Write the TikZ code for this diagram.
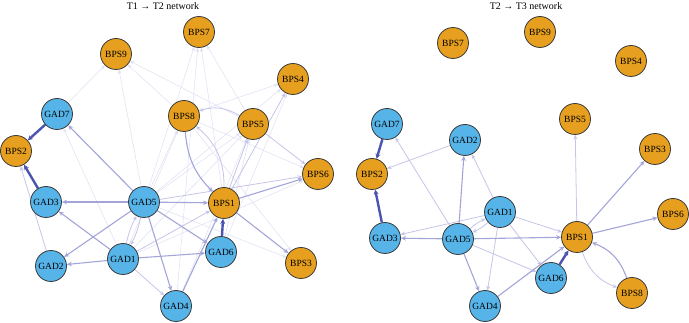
\documentclass[tikz,border=0pt]{standalone}
\usepackage{fontspec}
\setmainfont{Liberation Serif}
\usetikzlibrary{arrows.meta,backgrounds}
\definecolor{bpsfill}{HTML}{E69F1E}
\definecolor{gadfill}{HTML}{56B4E9}
\definecolor{nodeline}{HTML}{3A3A3A}
\definecolor{eD}{HTML}{4B55B0}
\definecolor{eC}{HTML}{A3A5D8}
\definecolor{eB}{HTML}{C4C5E8}
\definecolor{eA}{HTML}{DEDEF2}
\tikzset{
  nd/.style={circle,draw=nodeline,line width=0.8pt,minimum size=31pt,inner sep=0pt,font=\fontsize{9.5}{10}\selectfont},
  bps/.style={nd,fill=bpsfill},
  gad/.style={nd,fill=gadfill},
  ttl/.style={font=\fontsize{10}{11}\selectfont},
  e0/.style={draw=eA,line width=0.5pt,-{Stealth[length=4pt,width=3.5pt]}},
  e1/.style={draw=eB,line width=0.8pt,-{Stealth[length=4.5pt,width=4pt]}},
  e2/.style={draw=eC,line width=1.1pt,-{Stealth[length=5pt,width=4.5pt]}},
  e3/.style={draw=eD,line width=2.4pt,-{Stealth[length=5pt,width=5pt]}}
}
\begin{document}
\begin{tikzpicture}[x=1pt,y=-1pt]
\useasboundingbox (0,0) rectangle (689,323);
\node[ttl] (t1) at (163,6) {T1 → T2 network};
\node[ttl] (t2) at (526,6) {T2 → T3 network};
% left network
\node[bps] (lBPS7) at (199,32) {BPS7};
\node[bps] (lBPS9) at (116,54) {BPS9};
\node[bps] (lBPS4) at (293,79) {BPS4};
\node[gad] (lGAD7) at (57,114) {GAD7};
\node[bps] (lBPS8) at (184,116) {BPS8};
\node[bps] (lBPS5) at (253,124) {BPS5};
\node[bps] (lBPS2) at (16,151) {BPS2};
\node[bps] (lBPS6) at (318,174) {BPS6};
\node[gad] (lGAD3) at (46,202) {GAD3};
\node[gad] (lGAD5) at (144,202) {GAD5};
\node[bps] (lBPS1) at (224,203) {BPS1};
\node[gad] (lGAD6) at (221,252) {GAD6};
\node[gad] (lGAD1) at (123,259) {GAD1};
\node[gad] (lGAD2) at (51,266) {GAD2};
\node[bps] (lBPS3) at (301,263) {BPS3};
\node[gad] (lGAD4) at (176,306) {GAD4};
% right network
\node[bps] (rBPS7) at (453,43) {BPS7};
\node[bps] (rBPS9) at (540,32) {BPS9};
\node[bps] (rBPS4) at (631,61) {BPS4};
\node[bps] (rBPS5) at (575,119) {BPS5};
\node[gad] (rGAD7) at (387,124) {GAD7};
\node[gad] (rGAD2) at (465,140) {GAD2};
\node[bps] (rBPS3) at (655,149) {BPS3};
\node[bps] (rBPS2) at (372,174) {BPS2};
\node[gad] (rGAD1) at (500,212) {GAD1};
\node[bps] (rBPS6) at (673,214) {BPS6};
\node[gad] (rGAD3) at (385,238) {GAD3};
\node[gad] (rGAD5) at (458,239) {GAD5};
\node[bps] (rBPS1) at (577,237) {BPS1};
\node[gad] (rGAD6) at (551,278) {GAD6};
\node[bps] (rBPS8) at (632,293) {BPS8};
\node[gad] (rGAD4) at (485,306) {GAD4};
\begin{scope}[on background layer]
% left: very light
\foreach \a/\b in {lGAD1/lGAD7,lBPS5/lBPS9,lBPS5/lBPS7,lBPS8/lBPS4,lBPS1/lBPS7,lGAD5/lBPS9,lGAD5/lBPS8,lGAD5/lBPS5,lGAD5/lBPS4,lGAD5/lBPS3,lGAD1/lBPS8,lGAD1/lBPS5,lGAD5/lBPS7,lBPS8/lBPS9,lBPS8/lBPS6,lGAD4/lBPS5,lGAD6/lBPS5,lGAD6/lBPS4,lBPS8/lBPS3,lGAD1/lBPS6,lGAD7/lBPS9,lGAD4/lBPS7}
  \draw[e0] (\a) -- (\b);
% left: light
\foreach \a/\b in {lGAD1/lGAD4,lGAD2/lBPS2,lGAD1/lBPS1,lBPS5/lBPS6,lBPS1/lBPS5,lBPS1/lBPS4,lGAD5/lBPS6}
  \draw[e1] (\a) -- (\b);
\draw[e1] (lGAD1) to[bend left=8] (lGAD5);
\draw[e1] (lGAD5) to[bend left=8] (lGAD1);
\draw[e1] (lBPS1) to[bend right=25] (lBPS8);
\draw[e1] (lBPS5) to[bend right=25] (lBPS8);
% left: medium
\foreach \a/\b in {lGAD5/lGAD3,lGAD5/lBPS1,lGAD5/lGAD7,lGAD5/lGAD2,lGAD5/lGAD4,lGAD5/lGAD6,lGAD1/lGAD3,lGAD1/lGAD6,lGAD4/lBPS1,lBPS1/lBPS3,lBPS1/lBPS6,lGAD1/lGAD2}
  \draw[e2] (\a) -- (\b);
\draw[e2] (lBPS8) to[bend right=20] (lBPS1);
% left: strong
\draw[e3] (lGAD7) -- (lBPS2);
\draw[e3] (lGAD3) -- (lBPS2);
\draw[e3] (lGAD6) -- (lBPS1);
% right: light
\foreach \a/\b in {rGAD2/rBPS2,rGAD5/rGAD7,rGAD1/rGAD2,rGAD1/rGAD3,rGAD1/rGAD6,rGAD1/rGAD4,rGAD5/rGAD6,rBPS1/rBPS5,rGAD1/rBPS1}
  \draw[e1] (\a) -- (\b);
\draw[e1] (rGAD1) to[bend left=8] (rGAD5);
\draw[e1] (rGAD5) to[bend left=8] (rGAD1);
\draw[e1] (rBPS1) to[bend right=25] (rBPS8);
% right: medium
\foreach \a/\b in {rGAD5/rGAD3,rGAD5/rBPS1,rGAD5/rGAD4,rGAD5/rGAD2,rBPS1/rBPS3,rBPS1/rBPS6,rGAD4/rBPS1}
  \draw[e2] (\a) -- (\b);
\draw[e2] (rBPS8) to[bend right=25] (rBPS1);
% right: strong
\draw[e3] (rGAD7) -- (rBPS2);
\draw[e3] (rGAD3) -- (rBPS2);
\draw[e3] (rGAD6) -- (rBPS1);
\end{scope}
\end{tikzpicture}
\end{document}
